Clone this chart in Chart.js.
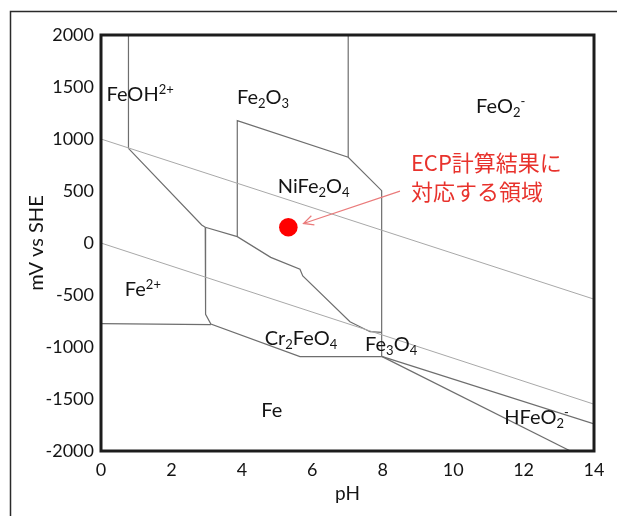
<!DOCTYPE html>
<html>
<head>
<meta charset="utf-8">
<script src="https://cdn.jsdelivr.net/npm/chart.js@4.4.1/dist/chart.umd.min.js"></script>
<style>
  html, body { margin: 0; padding: 0; background: #fff; }
  canvas { display: block; }
</style>
</head>
<body>
<canvas id="pourbaix" width="617" height="516"></canvas>
<script>
// Potential–pH (Pourbaix) diagram of iron: each boundary is a polyline of [pH, mV vs SHE]
const waterO2     = [[0, 1000], [14, -540]];
const waterH2     = [[0, 0], [14, -1550]];
const feohEdge    = [[0.78, 2000], [0.78, 910]];
const fe2Edge     = [[0.78, 910], [2.86, 173], [2.96, 151]];
const cr2feo4Top  = [[2.96, 151], [3.87, 61], [4.82, -138], [5.65, -253], [5.73, -317], [7.07, -757], [7.64, -853], [7.97, -859]];
const nife2o4Edge = [[3.87, 61], [3.87, 1176], [7.02, 824], [7.97, 503], [7.97, -1093]];
const feo2Edge    = [[7.02, 2000], [7.02, 824]];
const cr2feo4Low  = [[2.96, 151], [2.97, -686], [3.12, -779], [5.65, -1093], [7.97, -1093]];
const fe2FeEdge   = [[0, -775], [3.12, -785]];
const hfeo2Upper  = [[7.97, -1090], [14, -1740]];
const hfeo2Lower  = [[7.97, -1090], [13.33, -2000]];

// ECP result and the arrow pointing at it
const ecpPoint = [[5.32, 151]];
const ecpArrow = [[8.49, 499], [5.75, 188]];

// axis ticks
const phTicks = [0, 2, 4, 6, 8, 10, 12, 14];
const mvTicks = [2000, 1500, 1000, 500, 0, -500, -1000, -1500, -2000];

// species names placed at [pH, mV]; parts: [text, 'sub' | 'sup']
const regionLabels = [
  { parts: [['FeOH'], ['2+', 'sup']], ph: 1.11, mv: 1433 },
  { parts: [['Fe'], ['2', 'sub'], ['O'], ['3', 'sub']], ph: 4.60, mv: 1404 },
  { parts: [['FeO'], ['2', 'sub'], ['-', 'sup']], ph: 11.35, mv: 1317 },
  { parts: [['NiFe'], ['2', 'sub'], ['O'], ['4', 'sub']], ph: 6.04, mv: 553 },
  { parts: [['Fe'], ['2+', 'sup']], ph: 1.19, mv: -442 },
  { parts: [['Cr'], ['2', 'sub'], ['FeO'], ['4', 'sub']], ph: 5.68, mv: -913 },
  { parts: [['Fe'], ['3', 'sub'], ['O'], ['4', 'sub']], ph: 8.24, mv: -968 },
  { parts: [['Fe']], ph: 4.85, mv: -1603 },
  { parts: [['HFeO'], ['2', 'sub'], ['-', 'sup']], ph: 12.37, mv: -1673 }
];
const noteLines = ['ECP計算結果に', '対応する領域'];
const noteAnchor = [[8.80, 769], [8.80, 490]];

const LATIN = 'Lato, "Open Sans", sans-serif';
const CJK = '"Noto Sans CJK JP", "Noto Sans CJK SC", sans-serif';

const toXY = pts => pts.map(([x, y]) => ({ x, y }));
const line = (pts, color, width) => ({
  data: toXY(pts), showLine: true, borderColor: color, borderWidth: width,
  pointRadius: 0, fill: false, tension: 0
});

const BOUND = '#6e6e6e';
const WATER = '#a8a8a8';

function drawRich(ctx, parts, cx, cy, size, color) {
  const big = size + 'px ' + LATIN;
  const small = Math.round(size * 0.66) + 'px ' + LATIN;
  let total = 0;
  const widths = parts.map(([t, k]) => {
    ctx.font = k ? small : big;
    const w = ctx.measureText(t).width;
    total += w;
    return w;
  });
  let x = cx - total / 2;
  const base = cy + size * 0.36;
  ctx.fillStyle = color;
  ctx.textAlign = 'left';
  ctx.textBaseline = 'alphabetic';
  parts.forEach(([t, k], i) => {
    ctx.font = k ? small : big;
    let y = base;
    if (k === 'sub') y = base + size * 0.2;
    if (k === 'sup') y = base - size * 0.38;
    ctx.fillText(t, x, y);
    x += widths[i];
  });
}

const annotate = {
  id: 'annotate',
  afterDatasetsDraw(chart) {
    const { ctx, scales: { x, y }, chartArea: a } = chart;
    ctx.save();
    regionLabels.forEach(l => drawRich(ctx, l.parts, x.getPixelForValue(l.ph), y.getPixelForValue(l.mv), 20, '#141414'));

    // note text
    ctx.font = '22px ' + CJK;
    ctx.fillStyle = '#e8322c';
    ctx.textAlign = 'left';
    ctx.textBaseline = 'middle';
    noteLines.forEach((t, i) => ctx.fillText(t, x.getPixelForValue(noteAnchor[i][0]), y.getPixelForValue(noteAnchor[i][1])));

    // arrow
    const x0 = x.getPixelForValue(ecpArrow[0][0]), y0 = y.getPixelForValue(ecpArrow[0][1]);
    const x1 = x.getPixelForValue(ecpArrow[1][0]), y1 = y.getPixelForValue(ecpArrow[1][1]);
    const ang = Math.atan2(y1 - y0, x1 - x0);
    ctx.strokeStyle = '#ea7b7b';
    ctx.lineWidth = 1.2;
    ctx.beginPath();
    ctx.moveTo(x0, y0);
    ctx.lineTo(x1, y1);
    const L = 11, s = 0.45;
    ctx.moveTo(x1 - L * Math.cos(ang - s), y1 - L * Math.sin(ang - s));
    ctx.lineTo(x1, y1);
    ctx.lineTo(x1 - L * Math.cos(ang + s), y1 - L * Math.sin(ang + s));
    ctx.stroke();

    // plot frame
    ctx.strokeStyle = '#1c1c1c';
    ctx.lineWidth = 3;
    ctx.strokeRect(a.left, a.top, a.right - a.left, a.bottom - a.top);
    ctx.restore();
  },
  afterDraw(chart) {
    const { ctx, width, height } = chart;
    ctx.save();
    ctx.strokeStyle = '#2a2a2a';
    ctx.lineWidth = 1.5;
    ctx.beginPath();
    ctx.moveTo(10.5, height);
    ctx.lineTo(10.5, 11.5);
    ctx.lineTo(width, 11.5);
    ctx.stroke();
    ctx.restore();
  }
};

new Chart(document.getElementById('pourbaix'), {
  type: 'scatter',
  plugins: [annotate],
  data: {
    datasets: [
      line(waterO2, WATER, 1),
      line(waterH2, WATER, 1),
      line(feohEdge, BOUND, 1.2),
      line(fe2Edge, BOUND, 1.2),
      line(cr2feo4Top, BOUND, 1.2),
      line(nife2o4Edge, BOUND, 1.2),
      line(feo2Edge, BOUND, 1.2),
      line(cr2feo4Low, BOUND, 1.2),
      line(fe2FeEdge, BOUND, 1.2),
      line(hfeo2Upper, BOUND, 1.2),
      line(hfeo2Lower, BOUND, 1.2),
      { data: toXY(ecpPoint), pointRadius: 9.3, backgroundColor: '#ff0000', borderWidth: 0, showLine: false }
    ]
  },
  options: {
    responsive: false,
    animation: false,
    layout: { padding: { left: 25, top: 35, right: 23, bottom: 11 } },
    plugins: { legend: { display: false }, tooltip: { enabled: false } },
    scales: {
      x: {
        type: 'linear', min: 0, max: 14,
        afterBuildTicks: s => { s.ticks = phTicks.map(v => ({ value: v })); },
        afterFit: s => { s.height = 54; },
        grid: { display: false, drawTicks: false },
        border: { display: false },
        ticks: { font: { family: LATIN, size: 18 }, color: '#141414', padding: 8, callback: v => String(v) },
        title: { display: true, text: 'pH', font: { family: LATIN, size: 19 }, color: '#141414', padding: 0 }
      },
      y: {
        type: 'linear', min: -2000, max: 2000,
        afterBuildTicks: s => { s.ticks = mvTicks.map(v => ({ value: v })); },
        afterFit: s => { s.width = 76; },
        grid: { display: false, drawTicks: false },
        border: { display: false },
        ticks: { font: { family: LATIN, size: 18 }, color: '#141414', padding: 7, callback: v => String(v) },
        title: { display: true, text: 'mV vs SHE', font: { family: LATIN, size: 20 }, color: '#141414', padding: 0 }
      }
    }
  }
});
</script>
</body>
</html>
